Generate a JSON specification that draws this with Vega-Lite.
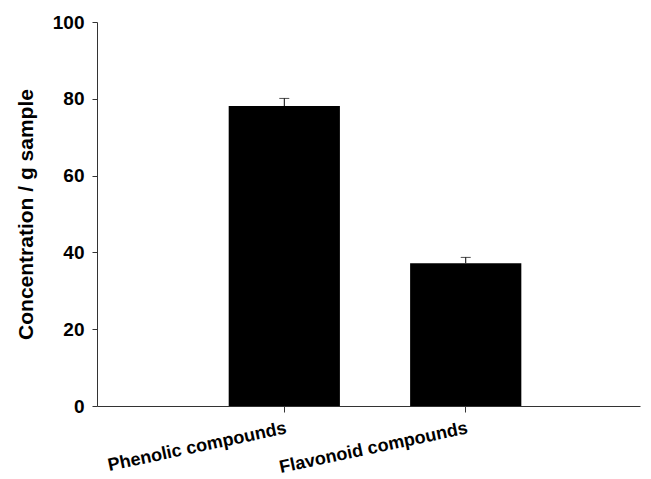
{
  "$schema": "https://vega.github.io/schema/vega-lite/v6.json",
  "autosize": "none",
  "width": 543,
  "height": 384,
  "padding": {"left": 97, "top": 22, "right": 11, "bottom": 73},
  "background": "white",
  "config": {
    "view": {"stroke": null},
    "font": "Liberation Sans"
  },
  "data": {
    "values": [
      {"compound": "Phenolic compounds", "value": 78.1, "upper": 80.1},
      {"compound": "Flavonoid compounds", "value": 37.2, "upper": 38.7}
    ]
  },
  "encoding": {
    "x": {
      "field": "compound",
      "type": "nominal",
      "sort": null,
      "scale": {"paddingInner": 0.387, "paddingOuter": 0.69, "align": 0.526},
      "axis": {
        "title": null,
        "labelAngle": -12,
        "labelAlign": "right",
        "labelBaseline": "top",
        "labelFont": "Liberation Sans",
        "labelFontWeight": "bold",
        "labelFontSize": 18,
        "labelColor": "black",
        "labelPadding": 7,
        "tickSize": 6,
        "tickColor": "#333",
        "domainColor": "#333",
        "labelOverlap": false,
        "labelLimit": 0
      }
    }
  },
  "layer": [
    {
      "mark": {"type": "bar", "color": "black"},
      "encoding": {
        "y": {
          "field": "value",
          "type": "quantitative",
          "scale": {"domain": [0, 100], "nice": false},
          "axis": {
            "title": "Concentration / g sample",
            "titleFont": "Liberation Sans",
            "titleFontSize": 21,
            "titleFontWeight": "bold",
            "titleColor": "black",
            "titlePadding": 16,
            "values": [0, 20, 40, 60, 80, 100],
            "grid": false,
            "labelFont": "Liberation Sans",
            "labelFontSize": 19,
            "labelFontWeight": "bold",
            "labelColor": "black",
            "labelPadding": 8,
            "tickSize": 5,
            "tickColor": "#333",
            "domainColor": "#333"
          }
        }
      }
    },
    {
      "mark": {"type": "rule", "color": "black", "strokeWidth": 1},
      "encoding": {
        "y": {"field": "value", "type": "quantitative"},
        "y2": {"field": "upper"}
      }
    },
    {
      "mark": {"type": "tick", "color": "black", "thickness": 1, "size": 10, "orient": "horizontal"},
      "encoding": {
        "y": {"field": "upper", "type": "quantitative"}
      }
    }
  ]
}
